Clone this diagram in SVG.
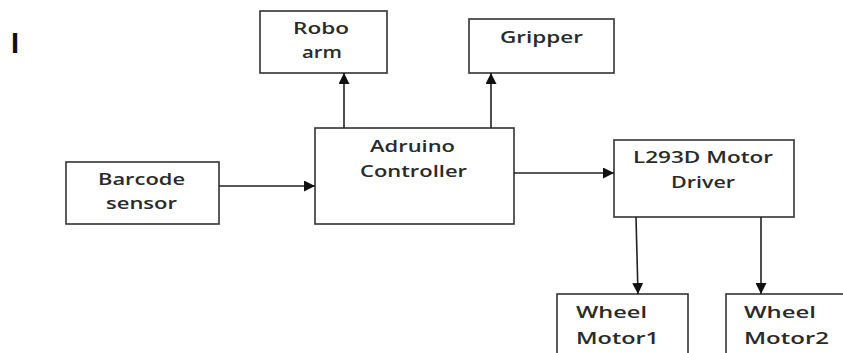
<svg xmlns="http://www.w3.org/2000/svg" width="843" height="353" viewBox="0 0 843 353">
<defs>
<style>
.box{fill:#fff;stroke:#333;stroke-width:1.6}
.lbl{font-family:"Open Sans","Liberation Sans",sans-serif;font-size:17px;font-weight:600;fill:#2a2a2a}
.edge{stroke:#222;stroke-width:1.6;fill:none;marker-end:url(#arr)}
</style>
<marker id="arr" markerUnits="userSpaceOnUse" markerWidth="11" markerHeight="11" refX="11" refY="5.5" orient="auto">
<path d="M0,0 L11,5.5 L0,11 z" fill="#111"/>
</marker>
</defs>
<rect width="843" height="353" fill="#fff"/>
<text x="11" y="53" style="font-family:'Liberation Sans',sans-serif;font-size:29px;font-weight:bold;fill:#111">I</text>
<g id="robo-arm">
<rect class="box" x="260" y="11" width="127" height="62"/>
<text class="lbl" x="293" y="34" textLength="56" lengthAdjust="spacingAndGlyphs">Robo</text>
<text class="lbl" x="302" y="58" textLength="40" lengthAdjust="spacingAndGlyphs">arm</text>
</g>
<g id="gripper">
<rect class="box" x="469" y="19" width="145" height="54"/>
<text class="lbl" x="500" y="43" textLength="83" lengthAdjust="spacingAndGlyphs">Gripper</text>
</g>
<g id="barcode-sensor">
<rect class="box" x="66" y="162" width="153" height="62"/>
<text class="lbl" x="98" y="185" textLength="87" lengthAdjust="spacingAndGlyphs">Barcode</text>
<text class="lbl" x="106" y="209" textLength="71" lengthAdjust="spacingAndGlyphs">sensor</text>
</g>
<g id="controller">
<rect class="box" x="315" y="128" width="199" height="96"/>
<text class="lbl" x="370" y="152" textLength="85" lengthAdjust="spacingAndGlyphs">Adruino</text>
<text class="lbl" x="360" y="177" textLength="107" lengthAdjust="spacingAndGlyphs">Controller</text>
</g>
<g id="motor-driver">
<rect class="box" x="614" y="140" width="180" height="77"/>
<text class="lbl" x="633" y="163" textLength="140" lengthAdjust="spacingAndGlyphs">L293D Motor</text>
<text class="lbl" x="671" y="188" textLength="64" lengthAdjust="spacingAndGlyphs">Driver</text>
</g>
<g id="wheel-motor-1">
<rect class="box" x="557" y="294" width="131" height="70"/>
<text class="lbl" x="576" y="318" textLength="71" lengthAdjust="spacingAndGlyphs">Wheel</text>
<text class="lbl" x="576" y="344" textLength="83" lengthAdjust="spacingAndGlyphs">Motor1</text>
</g>
<g id="wheel-motor-2">
<rect class="box" x="726" y="294" width="130" height="70"/>
<text class="lbl" x="744" y="318" textLength="72" lengthAdjust="spacingAndGlyphs">Wheel</text>
<text class="lbl" x="744" y="344" textLength="85" lengthAdjust="spacingAndGlyphs">Motor2</text>
</g>
<g id="connectors">
<line class="edge" x1="344" y1="128" x2="344" y2="73"/>
<line class="edge" x1="491" y1="128" x2="491" y2="73"/>
<line class="edge" x1="219" y1="186" x2="315" y2="186"/>
<line class="edge" x1="514" y1="173" x2="614" y2="173"/>
<line class="edge" x1="636" y1="217" x2="638" y2="294"/>
<line class="edge" x1="761" y1="217" x2="761" y2="294"/>
</g>
</svg>
